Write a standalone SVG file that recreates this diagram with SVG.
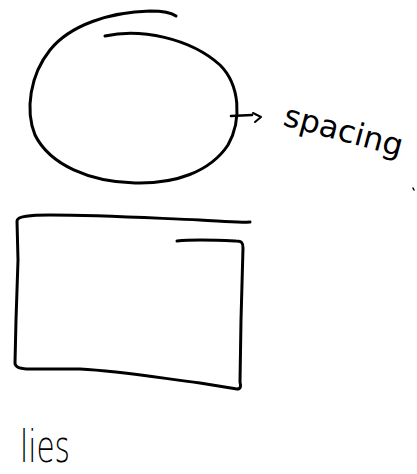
<svg xmlns="http://www.w3.org/2000/svg" width="417" height="474" viewBox="0 0 417 474">
<style>
.ink{fill:none;stroke:#000;stroke-linecap:round;stroke-linejoin:round}
.hand{font-family:"DejaVu Sans","Liberation Sans",sans-serif;fill:#000}
</style>
<rect width="417" height="474" fill="#fff"/>
<g id="circle-node">
<path class="ink" stroke-width="3" d="M105,36 C140,28 190,38 220,65 C240,85 242,120 228,145 C210,172 175,184 135,183 C90,182 50,165 35,135 C25,110 30,75 50,50 C70,25 110,12 150,11 C162,11 172,13 176,16"/>
</g>
<g id="connectors">
<path class="ink" stroke-width="2.5" d="M231,116 L252,115"/>
<path class="ink" stroke-width="2" d="M253,113 L261,117 L255,122"/>
</g>
<g id="spacing-label">
<text class="hand" x="282" y="125" font-size="31" font-weight="400" textLength="122" lengthAdjust="spacingAndGlyphs" transform="rotate(15 282 125)">spacing</text>
<path class="ink" stroke-width="1.5" d="M413,188 L414,190"/>
</g>
<g id="rect-node">
<path class="ink" stroke-width="3" d="M250,222 C235,223 220,221 200,220 C150,218 100,215 50,215 C30,215 17,216 17,221 L18,260 L16,320 L15,363 C15,367 20,369 30,369 L80,369 C120,371 160,378 200,383 L237,389 C241,389 241,386 240,382 L241,320 L243,248 C243,243 242,241 236,241 C215,240 195,239 177,241"/>
</g>
<g id="lies-label">
<text class="hand" x="20" y="462" font-size="44" font-weight="200" textLength="50" lengthAdjust="spacingAndGlyphs">lies</text>
</g>
</svg>
